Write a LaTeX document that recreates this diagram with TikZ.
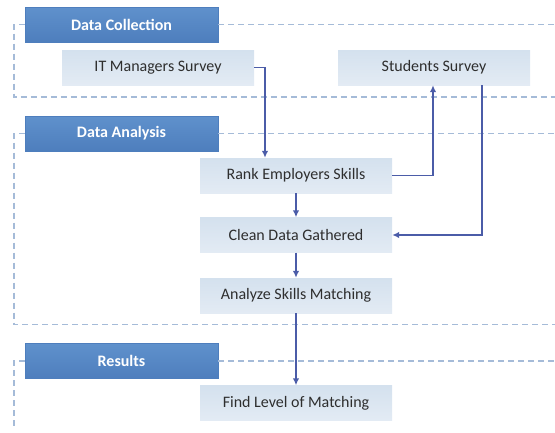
\documentclass[tikz,border=0pt]{standalone}
\usepackage{fontspec}
\setmainfont{Carlito}
\usetikzlibrary{arrows.meta}

\definecolor{headblue}{HTML}{5686C3}
\definecolor{headtop}{HTML}{5F91CC}
\definecolor{headbot}{HTML}{4E7EBD}
\definecolor{boxtop}{HTML}{D4E1EE}
\definecolor{boxbot}{HTML}{E3EBF4}
\definecolor{framecol}{HTML}{A5BBD8}
\definecolor{flowcol}{HTML}{4B5CA8}
\definecolor{txtcol}{HTML}{2E2E2E}

\tikzset{
    header/.style={minimum width=193pt, minimum height=35pt, inner sep=0pt,
        top color=headtop, bottom color=headbot, draw=headbot, line width=0.4pt,
        text=white, font=\fontsize{16}{18}\selectfont\bfseries},
    task/.style={minimum width=192pt, minimum height=35pt, inner sep=0pt,
        top color=boxtop, bottom color=boxbot,
        text=txtcol, font=\fontsize{16}{18}\selectfont},
    frame/.style={framecol, line width=1.2pt, dash pattern=on 6pt off 4pt},
    flow/.style={flowcol, line width=1.4pt, -{Latex[length=7pt,width=6.5pt]}}
}

\begin{document}
\begin{tikzpicture}[x=1pt, y=-1pt]
        \useasboundingbox (0,0) rectangle (555,432);

        % section headers
        \node[header] (dc) at (121.5,24.5) {Data Collection};
        \node[header] (da) at (121.5,133.5) {Data Analysis};
        \node[header] (res) at (121.5,361) {Results};

        % dashed section frames
        \draw[frame] (dc.east) -- (555,24.5);
        \draw[frame] (dc.west) -- (14,24.5) -- (14,97) -- (555,97);
        \draw[frame] (da.east) -- (555,133.5);
        \draw[frame] (da.west) -- (14,133.5) -- (14,324.5) -- (555,324.5);
        \draw[frame] (res.east) -- (555,361);
        \draw[frame] (res.west) -- (14,361) -- (14,428);

        % steps
        \node[task] (itsurvey) at (158,67.5) {IT Managers Survey};
        \node[task] (stsurvey) at (434,67.5) {Students Survey};
        \node[task] (rank) at (296,175.5) {Rank Employers Skills};
        \node[task] (clean) at (296,235) {Clean Data Gathered};
        \node[task] (analyze) at (296,295.5) {Analyze Skills Matching};
        \node[task] (level) at (296,403) {Find Level of Matching};

        % flow
        \draw[flow] (itsurvey.east) -| ([xshift=-31pt]rank.north);
        \draw[flow] (rank.east) -| ([xshift=-1pt]stsurvey.south);
        \draw[flow] ([xshift=48pt]stsurvey.south) |- (clean.east);
        \draw[flow] (rank) -- (clean);
        \draw[flow] (clean) -- (analyze);
        \draw[flow] (analyze) -- (level);
    \end{tikzpicture}
\end{document}
